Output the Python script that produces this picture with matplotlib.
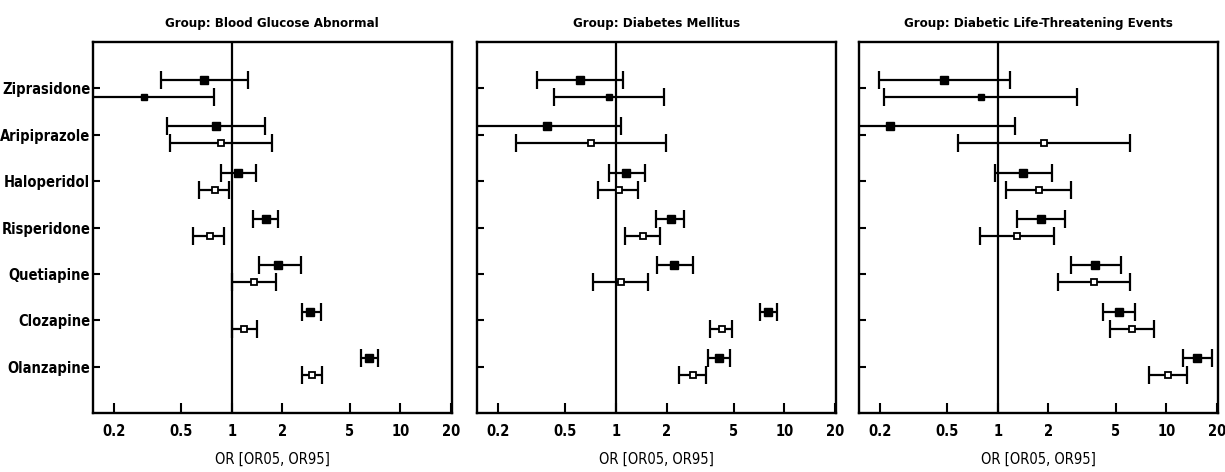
import numpy as np
import matplotlib
matplotlib.use("Agg")
import matplotlib.pyplot as plt
from matplotlib import font_manager as fm
from matplotlib.ticker import FixedLocator, NullLocator

# Pick a narrow bold sans if one is installed
entries = fm.fontManager.ttflist
names = {f.name for f in entries}
label_size = 11.5
if 'Liberation Sans Narrow' in names:
    plt.rcParams['font.family'] = ['Liberation Sans Narrow', 'DejaVu Sans']
elif any(f.name == 'DejaVu Sans' and 'condensed' in str(f.stretch) for f in entries):
    plt.rcParams['font.family'] = ['DejaVu Sans']
    plt.rcParams['font.stretch'] = 'condensed'
    label_size = 10.5
else:
    narrow = sorted(f.name for f in entries
                    if 'Narrow' in f.name or 'Condensed' in f.name)
    if narrow:
        plt.rcParams['font.family'] = [narrow[0], 'DejaVu Sans']
    else:
        plt.rcParams['font.family'] = ['DejaVu Sans']
        label_size = 9.5
plt.rcParams['font.weight'] = 'bold'

drugs = ["Ziprasidone", "Aripiprazole", "Haloperidol", "Risperidone",
         "Quetiapine", "Clozapine", "Olanzapine"]
groups = ["Blood Glucose Abnormal", "Diabetes Mellitus",
          "Diabetic Life-Threatening Events"]

# Odds ratios with 5th / 95th bounds; "a" rows are the filled markers,
# "b" rows the open markers beneath them.
bga_or_a = [0.68, 0.81, 1.09, 1.59, 1.89, 2.93, 6.57]
bga_lo_a = [0.38, 0.41, 0.86, 1.33, 1.45, 2.61, 5.84]
bga_hi_a = [1.24, 1.57, 1.39, 1.89, 2.56, 3.38, 7.40]
bga_or_b = [0.30, 0.86, 0.79, 0.74, 1.36, 1.18, 3.00]
bga_lo_b = [0.10, 0.43, 0.64, 0.59, 1.00, 1.00, 2.62]
bga_hi_b = [0.78, 1.74, 0.96, 0.90, 1.82, 1.41, 3.45]

dm_or_a = [0.61, 0.39, 1.15, 2.12, 2.22, 8.04, 4.09]
dm_lo_a = [0.34, 0.10, 0.91, 1.74, 1.75, 7.15, 3.55]
dm_hi_a = [1.11, 1.07, 1.50, 2.55, 2.89, 9.05, 4.79]
dm_or_b = [0.91, 0.71, 1.04, 1.45, 1.07, 4.26, 2.86]
dm_lo_b = [0.43, 0.255, 0.78, 1.14, 0.73, 3.63, 2.38]
dm_hi_b = [1.93, 1.98, 1.35, 1.82, 1.56, 4.91, 3.43]

dlt_or_a = [0.48, 0.23, 1.42, 1.80, 3.79, 5.28, 15.3]
dlt_lo_a = [0.198, 0.10, 0.96, 1.30, 2.71, 4.24, 12.6]
dlt_hi_a = [1.18, 1.27, 2.10, 2.50, 5.38, 6.54, 18.6]
dlt_or_b = [0.79, 1.88, 1.75, 1.30, 3.73, 6.28, 10.2]
dlt_lo_b = [0.21, 0.58, 1.12, 0.78, 2.29, 4.61, 7.88]
dlt_hi_b = [2.96, 6.08, 2.73, 2.16, 6.08, 8.52, 13.3]

tick_values = [0.2, 0.5, 1, 2, 5, 10, 20]
tick_labels = ["0.2", "0.5", "1", "2", "5", "10", "20"]

panels = [
    (bga_or_a, bga_lo_a, bga_hi_a, bga_or_b, bga_lo_b, bga_hi_b),
    (dm_or_a, dm_lo_a, dm_hi_a, dm_or_b, dm_lo_b, dm_hi_b),
    (dlt_or_a, dlt_lo_a, dlt_hi_a, dlt_or_b, dlt_lo_b, dlt_hi_b),
]

# open-row markers that are drawn as small solid squares
small_solid = {(0, "Ziprasidone"), (1, "Ziprasidone"), (2, "Ziprasidone")}

fig = plt.figure(figsize=(12.25, 4.72), dpi=100)
lefts = [0.0759, 0.3894, 0.7012]
width = 0.2928
bottom, height = 0.125, 0.786

ypos = np.arange(1, len(drugs) + 1)
off = 0.185

for k, (name, data) in enumerate(zip(groups, panels)):
    ax = fig.add_axes([lefts[k], bottom, width, height])
    or_a, lo_a, hi_a, or_b, lo_b, hi_b = [np.array(v) for v in data]
    ax.set_xscale('log')
    ax.set_xlim(0.15, 20.2)
    ax.set_ylim(8, 0)
    ax.axvline(1, color='black', lw=1.6, zorder=1)

    ax.errorbar(or_a, ypos - off, xerr=[or_a - lo_a, hi_a - or_a],
                fmt='none', ecolor='black', elinewidth=1.6, capsize=6.5,
                capthick=1.6, zorder=2)
    ax.plot(or_a, ypos - off, 's', ms=6, color='black', zorder=3)

    ax.errorbar(or_b, ypos + off, xerr=[or_b - lo_b, hi_b - or_b],
                fmt='none', ecolor='black', elinewidth=1.6, capsize=6.5,
                capthick=1.6, zorder=2)
    for i, d in enumerate(drugs):
        if (k, d) in small_solid:
            ax.plot(or_b[i], ypos[i] + off, 's', ms=4, color='black', zorder=3)
        else:
            ax.plot(or_b[i], ypos[i] + off, 's', ms=5, mfc='white',
                    mec='black', mew=1.3, zorder=3)

    ax.xaxis.set_major_locator(FixedLocator(tick_values))
    ax.xaxis.set_minor_locator(NullLocator())
    ax.set_xticklabels(tick_labels)
    ax.set_yticks(ypos)
    ax.set_yticklabels(drugs if k == 0 else [])
    ax.tick_params(axis='x', direction='in', length=7, width=1.5, pad=8,
                   labelsize=label_size)
    ax.tick_params(axis='y', direction='in', length=5, width=1.5, pad=2,
                   labelsize=label_size)
    for s in ax.spines.values():
        s.set_linewidth(1.7)
    ax.set_xlabel("OR [OR05, OR95]", fontsize=label_size, labelpad=9)
    ax.set_title("Group: " + name, fontsize=label_size - 1,
                 fontweight='bold', pad=11)

fig.savefig("out.png", dpi=100)
